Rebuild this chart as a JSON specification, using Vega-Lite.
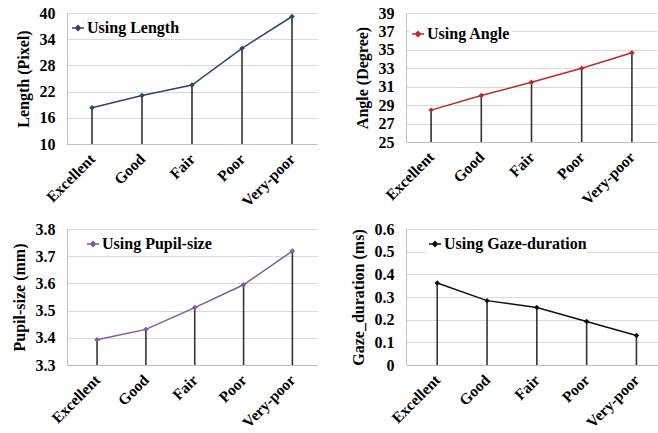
{
  "$schema": "https://vega.github.io/schema/vega-lite/v6.json",
  "padding": {"left": 11, "top": 5, "right": 0, "bottom": 0},
  "background": "white",
  "config": {
    "view": {"stroke": null},
    "font": "Liberation Serif, Times New Roman, DejaVu Serif, serif",
    "axis": {
      "labelFont": "Liberation Serif, Times New Roman, DejaVu Serif, serif", "labelFontWeight": "bold", "labelColor": "black",
      "titleFont": "Liberation Serif, Times New Roman, DejaVu Serif, serif", "titleFontWeight": "bold", "titleColor": "black", "titleFontSize": 16,
      "domainColor": "#bfbfbf", "gridColor": "#d9d9d9", "ticks": false, "labelOverlap": false
    },
    "axisX": {"labelAngle": -45, "labelFontSize": 15.5, "labelPadding": 12, "labelAlign": "right", "labelBaseline": "middle", "grid": false, "title": null},
    "axisY": {"labelFontSize": 16, "labelPadding": 12, "titlePadding": 8, "grid": true},
    "legend": {
      "title": null, "orient": "none", "labelFont": "Liberation Serif, Times New Roman, DejaVu Serif, serif", "labelFontWeight": "bold",
      "labelFontSize": 16, "labelColor": "black", "fillColor": "white", "padding": 1,
      "symbolType": "M-1,0H1M0,-0.4L0.4,0L0,0.4L-0.4,0Z", "symbolSize": 144, "symbolStrokeWidth": 1.5, "labelOffset": 1
    }
  },
  "data": {"values": [
    {"panel": "A", "q": "Excellent", "v": 18.3},
    {"panel": "A", "q": "Good", "v": 21.1},
    {"panel": "A", "q": "Fair", "v": 23.5},
    {"panel": "A", "q": "Poor", "v": 31.9},
    {"panel": "A", "q": "Very-poor", "v": 39.2},
    {"panel": "B", "q": "Excellent", "v": 28.46},
    {"panel": "B", "q": "Good", "v": 30.04},
    {"panel": "B", "q": "Fair", "v": 31.48},
    {"panel": "B", "q": "Poor", "v": 33.0},
    {"panel": "B", "q": "Very-poor", "v": 34.68},
    {"panel": "C", "q": "Excellent", "v": 3.393},
    {"panel": "C", "q": "Good", "v": 3.431},
    {"panel": "C", "q": "Fair", "v": 3.511},
    {"panel": "C", "q": "Poor", "v": 3.595},
    {"panel": "C", "q": "Very-poor", "v": 3.719},
    {"panel": "D", "q": "Excellent", "v": 0.362},
    {"panel": "D", "q": "Good", "v": 0.284},
    {"panel": "D", "q": "Fair", "v": 0.254},
    {"panel": "D", "q": "Poor", "v": 0.192},
    {"panel": "D", "q": "Very-poor", "v": 0.130}
  ]},
  "bounds": "flush",
  "columns": 2,
  "spacing": {"row": 85, "column": 89},
  "concat": [
    {
      "width": 250, "height": 131,
      "transform": [{"filter": "datum.panel == 'A'"}, {"calculate": "'Using Length'", "as": "s"}],
      "encoding": {"x": {"field": "q", "type": "ordinal", "sort": ["Excellent", "Good", "Fair", "Poor", "Very-poor"], "scale": {"type": "point", "padding": 0.5}}},
      "layer": [
        {"mark": {"type": "rule", "color": "#333333", "strokeWidth": 1.6},
         "encoding": {"y": {"field": "v", "type": "quantitative", "scale": {"domain": [10, 40], "nice": false, "zero": false}, "axis": {"values": [10, 16, 22, 28, 34, 40], "tickCount": 20, "format": "d", "labelOverlap": false, "title": "Length (Pixel)"}}, "y2": {"datum": 10}}},
        {"mark": {"type": "line", "strokeWidth": 1.5},
         "encoding": {"y": {"field": "v", "type": "quantitative"}, "color": {"field": "s", "type": "nominal", "scale": {"range": ["#2a4670"]}, "legend": {"legendX": 2, "legendY": 6}}}},
        {"mark": {"type": "point", "shape": "diamond", "filled": true, "size": 30, "opacity": 1},
         "encoding": {"y": {"field": "v", "type": "quantitative"}, "color": {"field": "s", "type": "nominal"}}}
      ]
    },
    {
      "width": 251, "height": 129,
      "transform": [{"filter": "datum.panel == 'B'"}, {"calculate": "'Using Angle'", "as": "s"}],
      "encoding": {"x": {"field": "q", "type": "ordinal", "sort": ["Excellent", "Good", "Fair", "Poor", "Very-poor"], "scale": {"type": "point", "padding": 0.5}}},
      "layer": [
        {"mark": {"type": "rule", "color": "#333333", "strokeWidth": 1.6},
         "encoding": {"y": {"field": "v", "type": "quantitative", "scale": {"domain": [25, 39], "nice": false, "zero": false}, "axis": {"values": [25, 27, 29, 31, 33, 35, 37, 39], "tickCount": 20, "format": "d", "labelOverlap": false, "title": "Angle (Degree)"}}, "y2": {"datum": 25}}},
        {"mark": {"type": "line", "strokeWidth": 1.5},
         "encoding": {"y": {"field": "v", "type": "quantitative"}, "color": {"field": "s", "type": "nominal", "scale": {"range": ["#c0272d"]}, "legend": {"legendX": 3, "legendY": 12}}}},
        {"mark": {"type": "point", "shape": "diamond", "filled": true, "size": 30, "opacity": 1},
         "encoding": {"y": {"field": "v", "type": "quantitative"}, "color": {"field": "s", "type": "nominal"}}}
      ]
    },
    {
      "width": 250, "height": 136,
      "transform": [{"filter": "datum.panel == 'C'"}, {"calculate": "'Using Pupil-size'", "as": "s"}],
      "encoding": {"x": {"field": "q", "type": "ordinal", "sort": ["Excellent", "Good", "Fair", "Poor", "Very-poor"], "scale": {"type": "point", "padding": 0.56, "align": 0.55}}},
      "layer": [
        {"mark": {"type": "rule", "color": "#333333", "strokeWidth": 1.6},
         "encoding": {"y": {"field": "v", "type": "quantitative", "scale": {"domain": [3.3, 3.8], "nice": false, "zero": false}, "axis": {"values": [3.3, 3.4, 3.5, 3.6, 3.7, 3.8], "tickCount": 20, "labelOverlap": false, "format": ".1f", "title": "Pupil-size (mm)"}}, "y2": {"datum": 3.3}}},
        {"mark": {"type": "line", "strokeWidth": 1.5},
         "encoding": {"y": {"field": "v", "type": "quantitative"}, "color": {"field": "s", "type": "nominal", "scale": {"range": ["#7b5aa6"]}, "legend": {"legendX": 17, "legendY": 6}}}},
        {"mark": {"type": "point", "shape": "diamond", "filled": true, "size": 30, "opacity": 1},
         "encoding": {"y": {"field": "v", "type": "quantitative"}, "color": {"field": "s", "type": "nominal"}}}
      ]
    },
    {
      "width": 254, "height": 136,
      "transform": [{"filter": "datum.panel == 'D'"}, {"calculate": "'Using Gaze-duration'", "as": "s"}],
      "encoding": {"x": {"field": "q", "type": "ordinal", "sort": ["Excellent", "Good", "Fair", "Poor", "Very-poor"], "scale": {"type": "point", "padding": 0.55, "align": 0.57}}},
      "layer": [
        {"mark": {"type": "rule", "color": "#333333", "strokeWidth": 1.6},
         "encoding": {"y": {"field": "v", "type": "quantitative", "scale": {"domain": [0, 0.6], "nice": false}, "axis": {"values": [0, 0.1, 0.2, 0.3, 0.4, 0.5, 0.6], "tickCount": 20, "labelOverlap": false, "format": ".1~f", "title": "Gaze_duration (ms)"}}, "y2": {"datum": 0}}},
        {"mark": {"type": "line", "strokeWidth": 1.5},
         "encoding": {"y": {"field": "v", "type": "quantitative"}, "color": {"field": "s", "type": "nominal", "scale": {"range": ["#111111"]}, "legend": {"legendX": 20, "legendY": 6}}}},
        {"mark": {"type": "point", "shape": "diamond", "filled": true, "size": 30, "opacity": 1},
         "encoding": {"y": {"field": "v", "type": "quantitative"}, "color": {"field": "s", "type": "nominal"}}}
      ]
    }
  ],
  "resolve": {"scale": {"color": "independent", "y": "independent", "x": "independent"}, "legend": {"color": "independent"}, "axis": {"x": "independent", "y": "independent"}}
}
